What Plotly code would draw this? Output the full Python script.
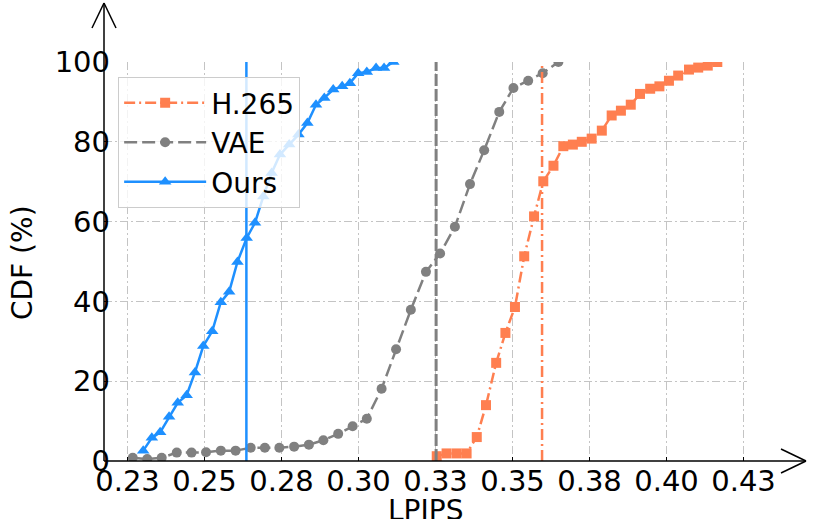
import plotly.graph_objects as go

# CDF of LPIPS per method (x = LPIPS, y = CDF %)
h265_x = [0.3254, 0.3286, 0.3319, 0.3351, 0.3384, 0.3414, 0.3447, 0.3477, 0.3508, 0.3538,
          0.3570, 0.3600, 0.3633, 0.3665, 0.3696, 0.3725, 0.3757, 0.3790, 0.3822, 0.3852,
          0.3884, 0.3914, 0.3947, 0.3977, 0.4008, 0.4038, 0.4073, 0.4103, 0.4134, 0.4165]
h265_y = [1.2, 1.9, 1.9, 1.9, 6.0, 14.0, 24.6, 32.1, 38.6, 51.3,
          61.3, 70.1, 74.0, 78.9, 79.3, 80.0, 80.8, 82.8, 86.6, 87.8,
          89.3, 92.0, 93.3, 93.9, 95.3, 96.6, 98.1, 98.6, 99.1, 100.0]

vae_x = [0.2267, 0.2314, 0.2361, 0.2410, 0.2458, 0.2505, 0.2553, 0.2601, 0.2650, 0.2696,
         0.2743, 0.2791, 0.2839, 0.2886, 0.2934, 0.2981, 0.3027, 0.3075, 0.3122, 0.3170,
         0.3219, 0.3265, 0.3313, 0.3362, 0.3408, 0.3457, 0.3503, 0.3551, 0.3598, 0.3649]
vae_y = [0.8, 0.5, 0.8, 2.1, 2.1, 2.2, 2.6, 2.6, 3.3, 3.3,
         3.3, 3.6, 4.1, 5.2, 6.8, 8.7, 10.6, 18.1, 28.0, 37.9,
         47.4, 52.0, 58.7, 69.4, 77.9, 87.5, 93.5, 95.3, 97.2, 100.0]

ours_x = [0.2301, 0.2329, 0.2356, 0.2385, 0.2413, 0.2442, 0.2469, 0.2496, 0.2525, 0.2553,
          0.2580, 0.2607, 0.2637, 0.2664, 0.2691, 0.2718, 0.2745, 0.2775, 0.2805, 0.2834,
          0.2862, 0.2889, 0.2918, 0.2947, 0.2972, 0.2999, 0.3027, 0.3057, 0.3083, 0.3113]
ours_y = [2.6, 5.8, 7.2, 11.1, 14.6, 16.5, 22.2, 28.8, 32.5, 39.8,
          42.4, 49.9, 55.9, 59.7, 66.3, 72.2, 76.8, 79.3, 81.8, 84.7,
          89.3, 91.0, 93.1, 93.9, 94.7, 97.2, 97.5, 98.5, 98.5, 100.0]

# mean LPIPS per method (vertical lines)
h265_mean = 0.3596
vae_mean = 0.3252
ours_mean = 0.2636

x_ticks = [0.225, 0.25, 0.275, 0.30, 0.325, 0.35, 0.375, 0.40, 0.425]
x_tick_text = ["0.23", "0.25", "0.28", "0.30", "0.33", "0.35", "0.38", "0.40", "0.43"]
y_ticks = [0, 20, 40, 60, 80, 100]

ORANGE = "#FF7F50"
GRAY = "#808080"
BLUE = "#1E90FF"
FONT = "DejaVu Sans"

fig = go.Figure()
fig.add_trace(go.Scatter(x=h265_x, y=h265_y, name="H.265", mode="lines+markers",
                         line=dict(color=ORANGE, width=2.5, dash="11px,4px,2px,4px"),
                         marker=dict(symbol="square", size=10, color=ORANGE)))
fig.add_trace(go.Scatter(x=vae_x, y=vae_y, name="VAE", mode="lines+markers",
                         line=dict(color=GRAY, width=2.5, dash="13px,5px"),
                         marker=dict(symbol="circle", size=10, color=GRAY)))
fig.add_trace(go.Scatter(x=ours_x, y=ours_y, name="Ours", mode="lines+markers",
                         line=dict(color=BLUE, width=2.5),
                         marker=dict(symbol="triangle-up", size=11, color=BLUE)))

fig.add_vline(x=h265_mean, line=dict(color=ORANGE, width=2.5, dash="11px,4px,2px,4px"))
fig.add_vline(x=vae_mean, line=dict(color=GRAY, width=3, dash="12px,3px"))
fig.add_vline(x=ours_mean, line=dict(color=BLUE, width=2.5))

# axis lines with open arrowheads (plot area 643 x 399 px)
W, H = 643.0, 399.0
ax = dict(color="black", width=1.5)
fig.add_shape(type="line", xref="paper", yref="paper", x0=0, y0=0, x1=0, y1=458 / H, line=ax)
fig.add_shape(type="line", xref="paper", yref="paper", x0=-12 / W, y0=433 / H, x1=0, y1=458 / H, line=ax)
fig.add_shape(type="line", xref="paper", yref="paper", x0=12 / W, y0=433 / H, x1=0, y1=458 / H, line=ax)
fig.add_shape(type="line", xref="paper", yref="paper", x0=0, y0=0, x1=702 / W, y1=0, line=ax)
fig.add_shape(type="line", xref="paper", yref="paper", x0=677 / W, y0=12 / H, x1=702 / W, y1=0, line=ax)
fig.add_shape(type="line", xref="paper", yref="paper", x0=677 / W, y0=-12 / H, x1=702 / W, y1=0, line=ax)

grid = dict(showgrid=True, gridcolor="#c4c4c4", gridwidth=1, griddash="8px,3px,2px,3px",
            zeroline=False, showline=False, ticks="inside", ticklen=4, tickcolor="black",
            automargin=False, tickfont=dict(size=29, color="black", family=FONT))

fig.update_xaxes(range=[0.21737, 0.42614], tickvals=x_ticks, ticktext=x_tick_text, **grid)
fig.update_yaxes(range=[0, 100], tickvals=y_ticks, ticklabelstandoff=-7, **grid)

# axis titles
fig.add_annotation(text="LPIPS", xref="paper", yref="paper", x=0.5, y=-50 / H,
                   xanchor="center", yanchor="middle", showarrow=False,
                   font=dict(size=28, color="black", family=FONT))
fig.add_annotation(text="CDF (%)", xref="paper", yref="paper", x=-82 / W, y=0.4987,
                   xanchor="center", yanchor="middle", textangle=-90, showarrow=False,
                   font=dict(size=28, color="black", family=FONT))

fig.update_layout(
    width=830, height=519,
    margin=dict(l=104, r=83, t=62, b=58),
    plot_bgcolor="white", paper_bgcolor="white",
    font=dict(family=FONT, size=28, color="black"),
    showlegend=True,
    legend=dict(x=0.022, y=0.962, xanchor="left", yanchor="top",
                bgcolor="rgba(255,255,255,0.8)", bordercolor="#cccccc", borderwidth=1,
                font=dict(size=28, family=FONT), itemwidth=82, tracegroupgap=0),
)

# drop the default 8px page margin so the figure sits at the window corner
fig.write_html("out.html", config={"displayModeBar": False},
               post_script="document.body.style.margin='0';")
